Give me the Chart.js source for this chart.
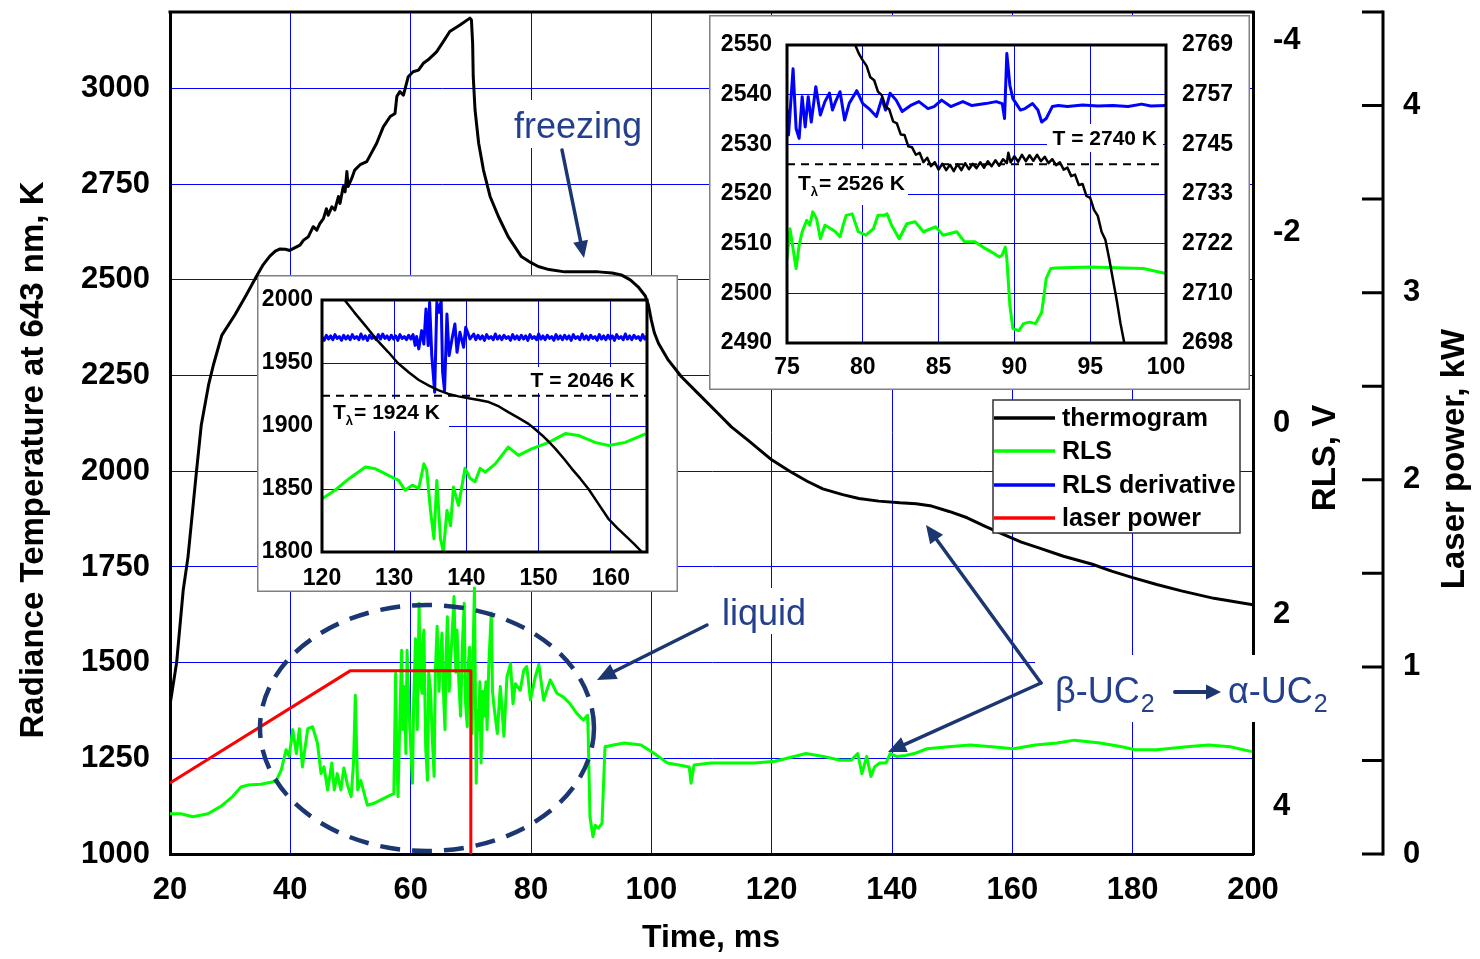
<!DOCTYPE html>
<html><head><meta charset="utf-8">
<script src="https://cdn.jsdelivr.net/npm/chart.js@4.4.0/dist/chart.umd.min.js"></script>
<style>
html,body{margin:0;padding:0;background:#fff;}
#wrap{position:relative;width:1480px;height:959px;}
#offscreen{position:absolute;left:-3000px;top:0;}
</style></head><body>
<div id="wrap"><canvas id="main" width="1480" height="959"></canvas></div>
<div id="offscreen"><canvas id="in1" width="421" height="317"></canvas><canvas id="in2" width="541" height="375"></canvas></div>
<script>
// ---------------- MAIN CHART DATA ----------------
const thermoTime = [
 20,21.1,22.2,23.0,24.4,25.2,26.4,27.2,28.6,30.8,
 32.7,34.4,35.5,36.6,37.5,38.3,39.2,39.9,41.6,42.2,
 43.0,43.8,44.4,44.9,45.5,46.0,46.3,46.9,47.4,48.0,
 48.25,48.8,49.1,49.4,49.6,50.2,50.7,51.6,52.7,54.35,
 55.45,56.6,57.4,57.7,58.2,58.8,59.6,60.4,61.3,62.1,
 62.9,64.3,65.4,66.5,68.2,69.85,70.1,70.3,70.4,70.7,
 71.3,72.1,73.2,74.6,76.2,78.4,80.0,81.2,83.0,85.6,
 88.0,91.2,93.5,95.0,96.5,97.8,99.0,99.5,100.0,100.5,
 101.2,102.8,105.0,107.8,111.1,113.3,116.0,120.0,123.0,125.9,
 128.5,131.8,134.5,137.8,141.3,144.0,146.6,149.5,152.5,155.5,
 158.5,161.5,164.4,168.5,173.3,176.5,180.0,184.0,188.1,193.5,
 200];
const thermoTemp = [
 1389,1500,1690,1777,2000,2121,2225,2277,2355,2409,
 2461,2510,2540,2562,2575,2581,2580,2577,2591,2604,
 2613,2639,2630,2647,2660,2686,2669,2691,2683,2718,
 2700,2744,2730,2783,2744,2765,2787,2801,2809,2857,
 2900,2927,2935,2979,2992,2983,3031,3044,3048,3066,
 3075,3096,3122,3149,3166,3184,3179,3118,3031,2944,
 2857,2787,2718,2665,2613,2561,2545,2535,2527,2521,
 2521,2521,2518,2513,2500,2482,2458,2435,2395,2362,
 2334,2291,2247,2203,2151,2116,2082,2030,2000,1974,
 1954,1939,1929,1922,1917.5,1915,1909,1895,1878.5,1856,
 1835,1815,1800,1778,1757,1739,1722,1704,1687.5,1668,
 1651];
const rlsTime = [
 20.0,21.8,23.8,26.3,28.5,30.4,31.8,32.9,35.1,37.6,
 38.5,39.3,39.8,40.4,41.0,41.5,42.0,42.9,43.7,44.5,
 45.1,45.6,46.2,46.9,47.3,47.8,48.4,48.9,49.5,50.1,
 50.5,50.8,51.2,51.7,52.8,53.9,56.1,57.2,57.5,57.7,
 57.9,58.2,58.5,58.7,59.0,59.2,59.4,59.8,60.3,60.5,
 60.8,61.1,61.4,61.6,61.9,62.0,62.2,62.5,62.8,63.0,
 63.3,63.6,63.9,64.1,64.4,64.7,65.0,65.2,65.5,65.7,
 65.9,66.1,66.4,66.6,66.9,67.2,67.5,67.7,68.0,68.3,
 68.6,68.9,69.1,69.4,69.6,69.8,70.0,70.2,70.4,70.6,
 70.8,70.9,71.1,71.3,71.5,71.7,72.0,72.2,72.5,72.7,
 73.0,73.4,73.6,73.8,74.4,74.9,75.5,76.0,76.6,77.0,
 77.4,78.2,78.8,79.3,79.9,80.7,81.3,82.1,83.2,84.3,
 85.4,86.5,87.6,88.7,89.4,89.5,89.8,90.3,90.7,91.2,
 91.8,92.3,93.7,95.5,98.3,100.5,102.7,105.5,106.3,106.6,
 107.1,109.9,117.1,120.6,125.7,128.6,131.4,133.2,134.3,135.0,
 135.8,136.5,137.1,137.9,139.0,139.7,140.8,142.2,143.7,145.8,
 149.4,153.0,156.6,160.2,163.8,167.4,170.3,174.6,178.2,180.4,
 184.0,189.0,192.6,196.2,199.8];
const rlsVolt = [
 4.08,4.08,4.11,4.08,4.00,3.90,3.80,3.78,3.77,3.74,
 3.62,3.41,3.48,3.20,3.45,3.19,3.59,3.19,3.17,3.34,
 3.66,3.59,3.83,3.55,3.83,3.66,3.83,3.60,3.78,3.90,
 3.55,2.84,3.83,3.73,3.99,3.97,3.90,3.87,2.61,3.50,
 3.90,3.10,2.37,3.20,2.75,3.45,2.37,3.10,3.76,2.90,
 2.25,3.20,1.88,2.70,2.82,2.30,2.16,3.40,3.73,2.60,
 2.79,3.30,3.69,2.60,2.12,2.80,2.40,2.19,2.90,3.20,
 2.40,2.02,2.80,2.51,2.20,1.81,2.60,2.16,2.70,3.06,
 2.30,1.88,2.90,3.17,2.50,2.34,2.90,3.24,2.30,1.72,
 3.10,3.76,3.00,3.20,2.70,3.55,2.80,3.06,2.70,3.20,
 2.50,1.98,2.80,2.93,3.24,2.75,3.27,2.65,2.51,2.93,
 2.72,2.79,2.58,2.54,2.89,2.65,2.52,2.89,2.68,2.82,
 2.86,2.93,3.03,3.10,3.05,3.24,4.11,4.32,4.20,4.23,
 4.18,3.38,3.36,3.34,3.36,3.45,3.55,3.58,3.59,3.76,
 3.57,3.55,3.55,3.53,3.45,3.48,3.52,3.52,3.45,3.66,
 3.48,3.69,3.59,3.55,3.55,3.45,3.48,3.47,3.45,3.40,
 3.38,3.36,3.38,3.40,3.36,3.34,3.31,3.34,3.38,3.41,
 3.41,3.38,3.36,3.38,3.43];
const laserTime = [20, 50, 70, 70];
const laserPower = [0.38, 0.98, 0.98, 0];
const xTicks = [20,40,60,80,100,120,140,160,180,200];
const tempTicks = [1000,1250,1500,1750,2000,2250,2500,2750,3000];
const rlsTicks = [-4,-2,0,2,4];
const laserTicks = [0,0.5,1,1.5,2,2.5,3,3.5,4,4.5];
const legendLabels = ['thermogram','RLS','RLS derivative','laser power'];
const legendColors = ['#000000','#00ff00','#0000ff','#ff0000'];

// ---------------- INSET 1 DATA (120-165 ms) ----------------
const in1Time = [122.5,123.2,124.5,126.0,127.5,129.2,130.5,132.0,133.4,134.8,
 136.1,137.5,138.9,140.3,141.7,143.1,144.5,145.8,147.2,148.6,
 149.6,150.5,151.4,152.3,153.5,154.6,155.8,156.9,158.3,159.7,
 160.9,162.0,163.2,164.3,165.0];
const in1Temp = [2004,1999.5,1990,1979.7,1969,1958.5,1950,1942.7,1936.5,1932,
 1928.5,1925.5,1923.5,1922,1920.7,1919,1915.5,1911,1906.5,1901.7,
 1897,1892.5,1887.5,1882,1874,1866,1858,1850,1838,1826,
 1819,1813,1806.5,1800,1796];
const in1RlsTime = [120.0,121.8,123.7,126.0,127.4,129.2,130.6,131.5,132.5,133.4,
 134.1,134.5,135.0,135.5,135.9,136.4,136.8,137.3,137.8,138.2,
 138.9,139.4,139.8,140.5,141.2,141.9,142.6,144.0,145.8,147.2,
 149.1,151.4,153.7,155.5,157.8,159.7,162.0,164.8];
const in1Rls = [1842.3,1849,1858,1867.4,1866,1860.8,1856.8,1849,1853,1850.5,
 1870,1865,1834,1810.5,1856.8,1810.5,1800,1833,1821,1851.5,
 1837,1853,1866.4,1858.5,1855.8,1866.4,1863.4,1870,1883.3,1876.7,
 1882,1887,1894,1892.5,1887,1884.5,1887,1893.8];
const in1DerTime = [
 120.0,120.3,120.6,120.9,121.2,121.5,121.8,122.1,122.4,122.7,
 123.0,123.3,123.6,123.9,124.2,124.5,124.8,125.1,125.4,125.7,
 126.0,126.3,126.6,126.9,127.2,127.5,127.8,128.1,128.4,128.7,
 129.0,129.3,129.6,129.9,130.2,130.5,130.8,131.1,131.4,131.7,
 132.0,132.3,132.6,
 132.9,133.1,133.4,133.8,134.1,134.4,134.7,134.9,135.2,135.6,
 135.9,136.2,136.5,136.7,136.97,137.3,137.6,138.0,138.4,138.7,
 139.1,139.6,139.9,140.5,141.0,
 141.3,141.6,141.9,142.2,142.5,142.8,143.1,143.4,143.7,144.0,
 144.3,144.6,144.9,145.2,145.5,145.8,146.1,146.4,146.7,147.0,
 147.3,147.6,147.9,148.2,148.5,148.8,149.1,149.4,149.7,150.0,
 150.3,150.6,150.9,151.2,151.5,151.8,152.1,152.4,152.7,153.0,
 153.3,153.6,153.9,154.2,154.5,154.8,155.1,155.4,155.7,156.0,
 156.3,156.6,156.9,157.2,157.5,157.8,158.1,158.4,158.7,159.0,
 159.3,159.6,159.9,160.2,160.5,160.8,161.1,161.4,161.7,162.0,
 162.3,162.6,162.9,163.2,163.5,163.8,164.1,164.4,164.7,165.0];
const in1Der = [
 1970.5,1968.0,1972.0,1969.0,1971.5,1968.5,1972.5,1969.5,1971.0,1968.0,
 1972.0,1969.0,1971.5,1968.5,1972.5,1969.5,1971.0,1968.5,1973.0,1969.0,
 1971.5,1968.0,1972.0,1969.5,1971.0,1968.5,1972.5,1969.0,1973.0,1969.5,
 1971.5,1968.5,1972.0,1969.0,1971.5,1968.0,1972.5,1969.5,1971.0,1968.5,
 1972.0,1969.0,1972.5,
 1964.0,1971.0,1961.2,1975.7,1965.0,1992.9,1963.8,1998.0,1955.9,1926.8,
 1998.0,1990.2,1999.5,1942.7,1928.0,1988.9,1955.9,1969.1,1981.0,1958.5,
 1974.4,1962.5,1978.3,1969.1,1973.0,
 1968.5,1972.0,1969.0,1971.5,1968.0,1972.5,1969.5,1971.0,1968.5,1973.0,
 1969.0,1971.5,1968.5,1972.0,1969.5,1971.0,1968.0,1972.5,1969.0,1971.5,
 1968.5,1972.0,1969.0,1971.5,1968.0,1972.5,1969.5,1971.0,1968.5,1973.0,
 1969.0,1971.5,1968.5,1972.0,1969.5,1971.0,1968.0,1972.5,1969.0,1971.5,
 1968.5,1972.0,1969.0,1971.5,1968.0,1972.5,1969.5,1971.0,1968.5,1973.0,
 1969.0,1971.5,1968.5,1972.0,1969.5,1971.0,1968.0,1972.5,1969.0,1971.5,
 1968.5,1972.0,1969.0,1971.5,1968.0,1972.5,1969.5,1971.0,1968.5,1973.0,
 1969.0,1971.5,1968.5,1972.0,1969.5,1971.0,1968.0,1972.5,1969.0,1971.5];
const in1Level = 1924;
const in1XTicks = [120,130,140,150,160];
const in1YTicks = [1800,1850,1900,1950,2000];

// ---------------- INSET 2 DATA (75-100 ms) ----------------
const in2Time = [79.3,79.5,79.75,80.0,80.25,80.5,80.75,81.0,81.25,81.5,81.75,
 82.0,82.25,82.5,82.75,83.0,83.25,83.5,83.75,84.0,84.25,
 84.5,84.75,85.0,85.25,85.5,85.75,86.0,86.25,86.5,86.75,
 87.0,87.25,87.5,87.75,88.0,88.25,88.5,88.75,89.0,89.25,
 89.5,89.6,89.75,90.0,90.25,90.5,90.75,91.0,91.25,91.5,
 91.75,92.0,92.25,92.5,92.75,93.0,93.25,93.5,93.75,94.0,
 94.25,94.5,94.75,95.0,95.25,95.5,95.75,96.0,96.25,96.5,
 96.75,97.0,97.25,97.5];
const in2Temp = [2551.5,2550.0,2548.2,2546.9,2545.8,2543.5,2542.9,2540.6,2539.9,2537.6,2537.0,
 2534.6,2534.2,2532.0,2531.9,2529.6,2529.4,2527.9,2528.3,2526.4,2527.3,
 2525.6,2526.4,2524.9,2526.1,2524.8,2525.9,2524.6,2526.0,2524.8,2526.2,
 2525.0,2526.1,2525.2,2526.4,2525.3,2526.6,2525.6,2526.8,2525.7,2527.0,
 2526.2,2528.3,2526.4,2527.6,2526.5,2527.9,2526.6,2527.8,2526.7,2527.9,
 2526.6,2527.5,2526.2,2527.0,2525.8,2526.4,2524.9,2525.3,2523.6,2523.9,
 2521.8,2522.0,2519.6,2519.2,2516.8,2515.6,2512.4,2510.8,2507.0,2502.8,
 2498.6,2493.9,2490.0,2486.0];
const in2RlsTime = [75.0,75.2,75.6,75.8,76.0,76.3,76.5,76.7,76.95,77.2,
 77.5,77.9,78.2,78.5,78.7,78.9,79.3,79.7,80.2,80.7,
 81.0,81.4,81.6,81.9,82.4,82.9,83.45,84.0,84.8,85.3,
 86.2,86.7,87.4,88.1,88.5,89.0,89.2,89.4,89.5,89.7,
 89.9,90.3,90.6,91.0,91.4,91.8,92.1,92.4,92.7,95.0,
 97.3,98.5,100.0];
const in2Rls = [2507,2513,2505,2509.7,2512.4,2514.7,2513.7,2516.4,2515,2511,
 2513.7,2513,2512.4,2511.4,2513.7,2515.7,2516,2512.4,2511.7,2513,
 2515.7,2515.7,2516,2513.7,2511,2514,2514.4,2512.4,2513.4,2511.7,
 2512.4,2510.4,2510.4,2509,2508.3,2507.3,2507.7,2509.3,2507,2497.6,
 2492.9,2492.5,2493.9,2494.2,2493.9,2496.2,2503,2505,2505.1,2505.3,
 2505.1,2505,2504];
const in2DerTime = [75.0,75.1,75.4,75.6,75.8,76.0,76.2,76.4,76.6,76.9,
 77.2,77.5,77.8,78.0,78.2,78.5,78.8,79.1,79.6,80.0,
 80.4,80.9,81.25,81.5,81.8,82.2,82.6,83.2,83.7,84.3,
 84.7,85.2,85.8,86.6,87.2,88.1,88.8,89.2,89.35,89.5,
 89.7,89.9,90.4,90.7,91.2,91.55,91.8,92.1,92.5,92.9,
 93.5,94.5,95.5,96.5,97.5,98.4,99.0,100.0];
const in2Der = [2537.2,2531.9,2545.2,2533.2,2531.2,2539.6,2533.5,2539.6,2534.5,2541.6,
 2535.9,2538.6,2540.3,2536.9,2538.6,2540.6,2534.9,2538.2,2540.8,2538.2,
 2537.2,2535.6,2539.2,2536.9,2540.3,2538.9,2536.6,2537.9,2538.6,2537.2,
 2537.6,2538.9,2537.6,2538.6,2537.8,2538.2,2538.6,2538.2,2535.2,2548.3,
 2541.9,2539.2,2536.9,2537.2,2538.2,2536.9,2534.5,2535.2,2537.6,2537.8,
 2537.6,2537.9,2537.7,2537.8,2537.6,2538.1,2537.7,2537.8];
const in2Level = 2526;
const in2XTicks = [75,80,85,90,95,100];
const in2YTicks = [2490,2500,2510,2520,2530,2540,2550];
const in2RightLabels = ['2698','2710','2722','2733','2745','2757','2769'];

// ---------------- HELPERS ----------------
const FONT = "'Liberation Sans', Arial, Helvetica, sans-serif";
Chart.defaults.font.family = FONT;
Chart.defaults.color = '#000';
Chart.defaults.elements.point.radius = 0;
Chart.defaults.elements.line.borderJoinStyle = 'round';
Chart.defaults.elements.line.tension = 0;
const GRID = '#0000ff';
const NAVY_T = '#24408c';
const NAVY_A = '#1c3672';
const pts = (xs, ys) => xs.map((x, i) => ({x: x, y: ys[i]}));
const fixTicks = (vals) => (scale) => { scale.ticks = vals.map(v => ({value: v})); };
const plain = (v) => String(v);
const fitW = (w) => (s) => { s.width = w; s.paddingTop = 0; s.paddingBottom = 0; };
const fitH = (h) => (s) => { s.height = h; s.paddingLeft = 0; s.paddingRight = 0; };

function arrow(ctx, x1, y1, x2, y2, lw, hl, hw, color) {
  const a = Math.atan2(y2 - y1, x2 - x1);
  const bx = x2 - hl * Math.cos(a), by = y2 - hl * Math.sin(a);
  ctx.save();
  ctx.strokeStyle = color; ctx.fillStyle = color; ctx.lineWidth = lw; ctx.lineCap = 'round';
  ctx.beginPath(); ctx.moveTo(x1, y1); ctx.lineTo(bx, by); ctx.stroke();
  ctx.beginPath(); ctx.moveTo(x2, y2);
  ctx.lineTo(bx + hw / 2 * Math.sin(a), by - hw / 2 * Math.cos(a));
  ctx.lineTo(bx - hw / 2 * Math.sin(a), by + hw / 2 * Math.cos(a));
  ctx.closePath(); ctx.fill();
  ctx.restore();
}
function tLambda(ctx, x, base, rest) {
  ctx.font = 'bold 21px ' + FONT; ctx.textAlign = 'left'; ctx.textBaseline = 'alphabetic';
  ctx.fillStyle = '#000';
  ctx.fillText('T', x, base);
  const w1 = ctx.measureText('T').width;
  ctx.font = 'bold 13px ' + FONT;
  ctx.fillText('\u03bb', x + w1, base + 6);
  const w2 = ctx.measureText('\u03bb').width;
  ctx.font = 'bold 21px ' + FONT;
  ctx.fillText(rest, x + w1 + w2 + 1, base);
}

// ---------------- INSET FACTORY ----------------
function insetDeco(cfg) {
  return {
    id: 'insetDeco',
    beforeDraw(chart) {
      const c = chart.ctx; c.save(); c.fillStyle = '#fff'; c.fillRect(0, 0, chart.width, chart.height); c.restore();
    },
    beforeDatasetsDraw(chart) {
      const c = chart.ctx; c.save();
      c.fillStyle = '#fff';
      cfg.boxes.forEach(b => c.fillRect(b[0], b[1], b[2], b[3]));
      c.fillStyle = '#000'; c.font = 'bold 21px ' + FONT; c.textAlign = 'right'; c.textBaseline = 'alphabetic';
      c.fillText(cfg.tText, cfg.tX, cfg.tY);
      tLambda(c, cfg.lX, cfg.lY, cfg.lText);
      c.restore();
    },
    afterDatasetsDraw(chart) {
      const a = chart.chartArea, c = chart.ctx; c.save();
      c.strokeStyle = '#000'; c.lineWidth = 3;
      c.strokeRect(a.left, a.top, a.right - a.left, a.bottom - a.top);
      c.restore();
    },
    afterDraw(chart) {
      const c = chart.ctx; c.save();
      c.strokeStyle = '#808080'; c.lineWidth = 1.5;
      c.strokeRect(0.75, 0.75, chart.width - 1.5, chart.height - 1.5);
      c.restore();
    }
  };
}
const tickFont = {size: 23, weight: 'bold'};

const inset1 = new Chart(document.getElementById('in1'), {
  type: 'line',
  data: {datasets: [
    {data: pts(in1Time, in1Temp), borderColor: '#000', borderWidth: 2.5},
    {data: pts([120, 165], [in1Level, in1Level]), borderColor: '#000', borderWidth: 2, borderDash: [8, 6]},
    {data: pts(in1RlsTime, in1Rls), borderColor: '#00ff00', borderWidth: 3},
    {data: pts(in1DerTime, in1Der), borderColor: '#0000ff', borderWidth: 3}
  ]},
  options: {
    responsive: false, animation: false, devicePixelRatio: 1,
    layout: {padding: {top: 25, right: 31, left: 0, bottom: 0}},
    plugins: {legend: {display: false}, tooltip: {enabled: false}},
    scales: {
      x: {type: 'linear', min: 120, max: 165, afterBuildTicks: fixTicks(in1XTicks), afterFit: fitH(40),
          grid: {color: GRID, lineWidth: 1, drawTicks: false}, border: {display: false},
          ticks: {font: tickFont, padding: 13, maxRotation: 0, autoSkip: false, callback: plain}},
      y: {type: 'linear', min: 1800, max: 2000, afterBuildTicks: fixTicks(in1YTicks), afterFit: fitW(65),
          grid: {color: GRID, lineWidth: 1, drawTicks: false}, border: {display: false},
          ticks: {font: tickFont, padding: 9, autoSkip: false, callback: plain}}
    }
  },
  plugins: [insetDeco({
    boxes: [[262, 92, 122, 26], [66, 124, 126, 32]],
    tText: 'T = 2046 K', tX: 378, tY: 112,
    lX: 76, lY: 144, lText: '= 1924 K'
  })]
});

const inset2 = new Chart(document.getElementById('in2'), {
  type: 'line',
  data: {datasets: [
    {data: pts(in2Time, in2Temp), borderColor: '#000', borderWidth: 2.5},
    {data: pts([75, 100], [in2Level, in2Level]), borderColor: '#000', borderWidth: 2, borderDash: [8, 6]},
    {data: pts(in2RlsTime, in2Rls), borderColor: '#00ff00', borderWidth: 3},
    {data: pts(in2DerTime, in2Der), borderColor: '#0000ff', borderWidth: 3}
  ]},
  options: {
    responsive: false, animation: false, devicePixelRatio: 1,
    layout: {padding: {top: 30, right: 0, left: 0, bottom: 0}},
    plugins: {legend: {display: false}, tooltip: {enabled: false}},
    scales: {
      x: {type: 'linear', min: 75, max: 100, afterBuildTicks: fixTicks(in2XTicks), afterFit: fitH(47),
          grid: {color: GRID, lineWidth: 1, drawTicks: false}, border: {display: false},
          ticks: {font: tickFont, padding: 11, maxRotation: 0, autoSkip: false, callback: plain}},
      y: {type: 'linear', position: 'left', min: 2490, max: 2550, afterBuildTicks: fixTicks(in2YTicks), afterFit: fitW(78),
          grid: {color: GRID, lineWidth: 1, drawTicks: false}, border: {display: false},
          ticks: {font: tickFont, padding: 15, autoSkip: false, callback: plain}},
      y2: {type: 'linear', position: 'right', min: 2490, max: 2550, afterBuildTicks: fixTicks(in2YTicks), afterFit: fitW(84),
          grid: {display: false, drawTicks: false}, border: {display: false},
          ticks: {font: tickFont, padding: 16, autoSkip: false, callback: (v, i) => in2RightLabels[i]}}
    }
  },
  plugins: [insetDeco({
    boxes: [[338, 109, 116, 28], [79, 134, 120, 56]],
    tText: 'T = 2740 K', tX: 448, tY: 130,
    lX: 89, lY: 175, lText: '= 2526 K'
  })]
});

// ---------------- MAIN DECORATION PLUGIN ----------------
const mainDeco = {
  id: 'mainDeco',
  beforeDraw(chart) {
    const c = chart.ctx; c.save(); c.fillStyle = '#fff'; c.fillRect(0, 0, chart.width, chart.height); c.restore();
  },
  beforeDatasetsDraw(chart) {
    const c = chart.ctx, a = chart.chartArea;
    c.save();
    // insets (below the main curves)
    c.drawImage(inset1.canvas, 257, 275);
    c.drawImage(inset2.canvas, 709, 15);
    // top frame line
    c.strokeStyle = '#000'; c.lineWidth = 3;
    c.beginPath(); c.moveTo(a.left - 1.5, a.top); c.lineTo(a.right + 1.5, a.top); c.stroke();
    // text backgrounds
    c.fillStyle = '#fff';
    c.fillRect(510, 100, 140, 48);
    c.fillRect(715, 588, 100, 46);
    c.fillRect(1035, 655, 305, 67);
    // texts
    c.fillStyle = NAVY_T; c.textAlign = 'left'; c.textBaseline = 'alphabetic';
    c.font = '36px ' + FONT;
    c.fillText('freezing', 514, 138);
    c.fillText('liquid', 722, 625);
    c.fillText('\u03b2-UC', 1055, 703);
    let w = c.measureText('\u03b2-UC').width;
    c.font = '25px ' + FONT; c.fillText('2', 1055 + w + 1, 712);
    c.font = '36px ' + FONT;
    c.fillText('\u03b1-UC', 1228, 703);
    w = c.measureText('\u03b1-UC').width;
    c.font = '25px ' + FONT; c.fillText('2', 1228 + w + 1, 712);
    c.restore();
    arrow(c, 1175, 692, 1221, 692, 4, 15, 15, NAVY_A);
  },
  afterDatasetsDraw(chart) {
    const c = chart.ctx;
    c.save();
    c.strokeStyle = NAVY_A; c.lineWidth = 4.5; c.setLineDash([20, 12]);
    c.beginPath(); c.ellipse(427, 728, 167, 123, 0, 0, Math.PI * 2); c.stroke();
    c.restore();
    arrow(c, 562, 150, 584, 258, 3.5, 17, 15, NAVY_A);
    arrow(c, 707, 625, 597, 680, 3.5, 19, 17, NAVY_A);
    arrow(c, 1041, 683, 926, 525, 3.5, 18, 16, NAVY_A);
    arrow(c, 1041, 683, 888, 752, 3.5, 18, 16, NAVY_A);
  },
  afterDraw(chart) {
    const c = chart.ctx; c.save();
    const yL = chart.scales.yL, xL = yL.left;
    c.strokeStyle = '#000'; c.lineWidth = 3; c.lineCap = 'butt';
    c.beginPath(); c.moveTo(xL, yL.getPixelForValue(4.5) - 1.5); c.lineTo(xL, yL.getPixelForValue(0) + 1.5); c.stroke();
    c.beginPath();
    laserTicks.forEach(v => { const y = yL.getPixelForValue(v); c.moveTo(xL - 21, y); c.lineTo(xL, y); });
    c.stroke();
    // legend
    c.fillStyle = '#fff'; c.fillRect(993, 400, 247, 133);
    c.strokeStyle = '#333'; c.lineWidth = 1.5; c.strokeRect(993, 400, 247, 133);
    const rows = [418, 451, 485, 518];
    c.font = 'bold 25px ' + FONT; c.textAlign = 'left'; c.textBaseline = 'middle';
    legendLabels.forEach((lab, i) => {
      c.strokeStyle = legendColors[i]; c.lineWidth = 3.5;
      c.beginPath(); c.moveTo(994, rows[i]); c.lineTo(1055, rows[i]); c.stroke();
      c.fillStyle = '#000'; c.fillText(lab, 1062, rows[i] + 1);
    });
    // axis titles
    c.fillStyle = '#000'; c.textAlign = 'center'; c.textBaseline = 'middle';
    c.font = 'bold 32px ' + FONT;
    c.fillText('Time, ms', 711, 938);
    const rot = (txt, x, y) => { c.save(); c.translate(x, y); c.rotate(-Math.PI / 2); c.fillText(txt, 0, 0); c.restore(); };
    c.font = 'bold 33px ' + FONT;
    rot('Radiance Temperature at 643 nm, K', 34, 460);
    rot('RLS, V', 1326, 458);
    rot('Laser power, kW', 1455, 459);
    c.restore();
  }
};

const bigTick = {size: 31, weight: 'bold'};
new Chart(document.getElementById('main'), {
  type: 'line',
  data: {datasets: [
    {label: legendLabels[0], data: pts(thermoTime, thermoTemp), yAxisID: 'yT', borderColor: '#000', borderWidth: 3},
    {label: legendLabels[3], data: pts(laserTime, laserPower), yAxisID: 'yL', borderColor: '#ff0000', borderWidth: 3},
    {label: legendLabels[1], data: pts(rlsTime, rlsVolt), yAxisID: 'yR', borderColor: '#00ff00', borderWidth: 3}
  ]},
  options: {
    responsive: false, animation: false, devicePixelRatio: 1,
    layout: {padding: {top: 12, left: 0, right: 0, bottom: 0}},
    plugins: {legend: {display: false}, tooltip: {enabled: false}},
    scales: {
      x: {type: 'linear', min: 20, max: 200, afterBuildTicks: fixTicks(xTicks), afterFit: fitH(105),
          grid: {color: GRID, lineWidth: 1, drawTicks: false}, border: {color: '#000', width: 3},
          ticks: {font: bigTick, padding: 18, maxRotation: 0, autoSkip: false, callback: plain}},
      yT: {type: 'linear', position: 'left', min: 1000, max: 3200, afterBuildTicks: fixTicks(tempTicks), afterFit: fitW(170),
          grid: {color: GRID, lineWidth: 1, drawTicks: false}, border: {color: '#000', width: 3},
          ticks: {font: bigTick, padding: 20, autoSkip: false, callback: plain}},
      yR: {type: 'linear', position: 'right', weight: 0, reverse: true, min: -4.3, max: 4.5,
          afterBuildTicks: fixTicks(rlsTicks), afterFit: fitW(130),
          grid: {display: false, drawTicks: false}, border: {color: '#000', width: 3},
          ticks: {font: bigTick, padding: 20, autoSkip: false, callback: plain}},
      yL: {type: 'linear', position: 'right', weight: 1, min: 0, max: 4.5,
          afterBuildTicks: fixTicks(laserTicks), afterFit: fitW(97),
          grid: {display: false, drawTicks: false}, border: {display: false},
          ticks: {font: bigTick, padding: 20, autoSkip: false, callback: v => (Number.isInteger(v) ? String(v) : '')}}
    }
  },
  plugins: [mainDeco]
});
</script></body></html>
